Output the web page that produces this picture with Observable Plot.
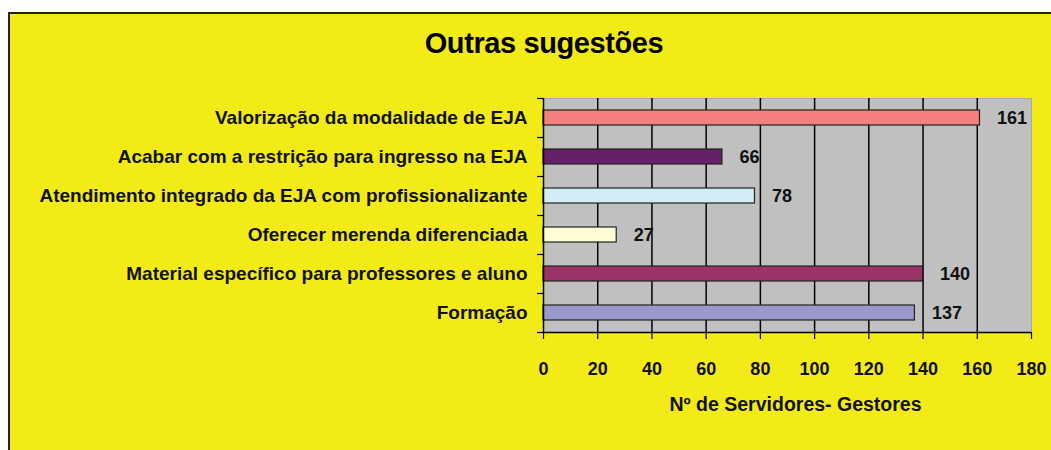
<!DOCTYPE html>
<html>
<head>
<meta charset="utf-8">
<script src="https://cdn.jsdelivr.net/npm/d3@7"></script>
<script src="https://cdn.jsdelivr.net/npm/@observablehq/plot@0.6"></script>
<style>
  html, body { margin: 0; padding: 0; background: #fff; }
  #wrap { position: relative; width: 1051px; height: 450px; overflow: hidden; background: #fff; font-family: "Liberation Sans", Arial, sans-serif; }
  #panel { position: absolute; left: 8px; top: 12px; width: 1100px; height: 500px; background: #F3EB17; border-left: 2px solid #222; border-top: 2px solid #222; box-sizing: border-box; }
  #title { position: absolute; left: 0; width: 1088px; top: 29px; line-height: 29px; text-align: center; font-weight: bold; font-size: 29px; color: #000; letter-spacing: -0.4px; }
  #chart { position: absolute; left: 0; top: 0; }
</style>
</head>
<body>
<div id="wrap">
  <div id="panel"></div>
  <div id="title">Outras sugestões</div>
  <div id="chart"></div>
</div>
<script>
const categories = [
  "Valorização da modalidade de EJA",
  "Acabar com a restrição para ingresso na EJA",
  "Atendimento integrado da EJA com profissionalizante",
  "Oferecer merenda diferenciada",
  "Material específico para professores e aluno",
  "Formação"
];
const values = [161, 66, 78, 27, 140, 137];
const colors = ["#F48080", "#66206A", "#D3EDF5", "#FEFDD5", "#9A3366", "#9999CC"];
const xTicks = [0, 20, 40, 60, 80, 100, 120, 140, 160, 180];
const xTitle = "Nº de Servidores- Gestores";

const data = categories.map((c, i) => ({cat: c, value: values[i], color: colors[i], i}));
const rowBounds = d3.range(categories.length + 1);

const chart = Plot.plot({
  width: 1051,
  height: 450,
  marginLeft: 543,
  marginRight: 20,
  marginTop: 98,
  marginBottom: 118,
  style: {background: "transparent", fontFamily: "Liberation Sans, Arial, sans-serif", overflow: "visible"},
  x: {type: "linear", domain: [0, 180]},
  y: {type: "linear", domain: [categories.length, 0]},
  marks: [
    Plot.frame({fill: "#C0C0C0", stroke: "#A8A8A8"}),
    Plot.gridX(xTicks.filter(t => t > 0 && t < 180), {stroke: "#000", strokeOpacity: 1, strokeWidth: 1.5}),
    Plot.rectX(data, {x1: 0, x2: "value", y1: d => d.i, y2: d => d.i + 1, insetTop: 12, insetBottom: 12, fill: "color", stroke: "#222", strokeWidth: 1.2}),
    Plot.text(data, {x: "value", y: d => d.i + 0.5, text: d => String(d.value), textAnchor: "start", dx: 17, fontSize: 18, fontWeight: "bold", fill: "#111"}),
    Plot.text(data, {x: 0, y: d => d.i + 0.5, text: "cat", textAnchor: "end", dx: -16, fontSize: 19, fontWeight: "bold", fill: "#111"}),
    Plot.ruleX([0], {stroke: "#000", strokeWidth: 1.5}),
    Plot.ruleY([categories.length], {stroke: "#000", strokeWidth: 1.5}),
    Plot.axisY({ticks: rowBounds, tickSize: 6, tickFormat: () => "", label: null, stroke: "#000", strokeWidth: 1.2}),
    Plot.axisX({ticks: xTicks, tickSize: 7, tickPadding: 23, tickFormat: d => String(d), fontSize: 18, fontWeight: "bold", label: null, stroke: "#000", strokeWidth: 1.2, fill: "#111"}),
    Plot.text([xTitle], {frameAnchor: "bottom", dy: 72, dx: 8, text: d => d, fontSize: 19.5, fontWeight: "bold", fill: "#111", lineAnchor: "middle"})
  ]
});
document.getElementById("chart").appendChild(chart);
</script>
</body>
</html>
